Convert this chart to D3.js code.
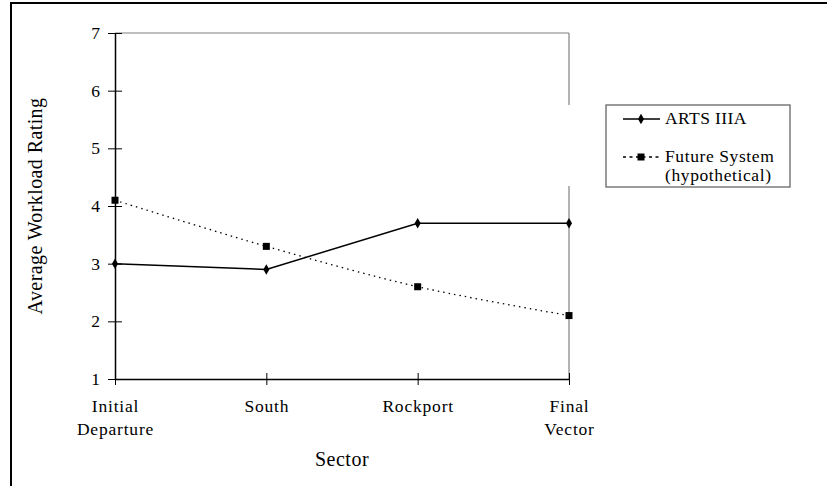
<!DOCTYPE html>
<html><head><meta charset="utf-8">
<script src="https://cdn.jsdelivr.net/npm/d3@7"></script>
<style>
html,body{margin:0;padding:0;background:#fff;}
text{font-family:"Liberation Serif","Times New Roman",serif;fill:#000;}
</style></head>
<body>
<svg id="c" width="827" height="486"></svg>
<script>
const categories = [["Initial","Departure"],["South"],["Rockport"],["Final","Vector"]];
const categoryKeys = ["Initial Departure","South","Rockport","Final Vector"];
const artsValues = [3.0, 2.9, 3.7, 3.7];
const futureValues = [4.1, 3.3, 2.6, 2.1];
const yTicks = [1,2,3,4,5,6,7];
const seriesNames = ["ARTS IIIA", ["Future System","(hypothetical)"]];

const FONT = "Liberation Serif";
const svg = d3.select("#c");
// outer frame
svg.append("rect").attr("x",11).attr("y",3).attr("width",840).attr("height",520)
  .attr("fill","none").attr("stroke","#000").attr("stroke-width",2);

const x = d3.scalePoint().domain(categoryKeys).range([115,569]).padding(0);
const y = d3.scaleLinear().domain([1,7]).range([379,33]);

// plot area border (top and right, gray)
svg.append("line").attr("x1",x.range()[0]).attr("x2",x.range()[1]).attr("y1",y(7)).attr("y2",y(7))
  .attr("stroke","#808080").attr("stroke-width",1.2);
svg.append("line").attr("x1",x.range()[1]).attr("x2",x.range()[1]).attr("y1",y(7)).attr("y2",105)
  .attr("stroke","#808080").attr("stroke-width",1.2);
svg.append("line").attr("x1",x.range()[1]).attr("x2",x.range()[1]).attr("y1",186).attr("y2",y(1))
  .attr("stroke","#808080").attr("stroke-width",1.2);

// y axis
const yAxis = svg.append("g").attr("transform",`translate(${x.range()[0]},0)`)
  .call(d3.axisLeft(y).tickValues(yTicks).tickFormat(d3.format("d")).tickSizeInner(7).tickSizeOuter(0).tickPadding(8));
yAxis.select(".domain").attr("stroke","#000").attr("stroke-width",1.5);
yAxis.selectAll(".tick line").attr("x1",7).attr("x2",-7).attr("stroke","#000").attr("stroke-width",1);
yAxis.selectAll(".tick text").attr("font-size",17.5).attr("font-family",FONT).attr("fill","#000");

// x axis
const xAxis = svg.append("g").attr("transform",`translate(0,${y(1)})`)
  .call(d3.axisBottom(x).tickSizeInner(6).tickSizeOuter(0).tickFormat(""));
xAxis.select(".domain").attr("stroke","#000").attr("stroke-width",1.5);
xAxis.selectAll(".tick line").attr("y1",-6).attr("y2",6).attr("stroke","#000").attr("stroke-width",1);
xAxis.selectAll(".tick").each(function(d,i){
  const t = d3.select(this).append("text").attr("text-anchor","middle")
    .attr("font-size",17.5).attr("font-family",FONT).attr("fill","#000").attr("letter-spacing","0.8");
  categories[i].forEach((line,j)=>{
    t.append("tspan").attr("x",0).attr("y",33 + j*23).text(line);
  });
});

// axis titles
svg.append("text").attr("x",342).attr("y",466).attr("text-anchor","middle")
  .attr("font-size",20).attr("letter-spacing","0.5").text("Sector");
svg.append("text").attr("transform","translate(42,206) rotate(-90)").attr("text-anchor","middle")
  .attr("font-size",20).attr("letter-spacing","0.4").text("Average Workload Rating");

// future line (smoothed, dotted)
const lineFuture = d3.line().x((d,i)=>x(categoryKeys[i])).y(d=>y(d)).curve(d3.curveCardinal.tension(0.1));
svg.append("path").datum(futureValues).attr("d",lineFuture).attr("fill","none")
  .attr("stroke","#000").attr("stroke-width",1.3).attr("stroke-dasharray","1.5,4");
svg.selectAll(".sq").data(futureValues).enter().append("rect")
  .attr("x",(d,i)=>x(categoryKeys[i])-3.5).attr("y",d=>y(d)-3.5).attr("width",7).attr("height",7).attr("fill","#000");

// arts line
const lineArts = d3.line().x((d,i)=>x(categoryKeys[i])).y(d=>y(d));
svg.append("path").datum(artsValues).attr("d",lineArts).attr("fill","none")
  .attr("stroke","#000").attr("stroke-width",1.5);
const diamond = d3.symbol().type(d3.symbolDiamond).size(32);
svg.selectAll(".dm").data(artsValues).enter().append("path").attr("d",diamond)
  .attr("transform",(d,i)=>`translate(${x(categoryKeys[i])},${y(d)})`).attr("fill","#000");

// legend
const lg = svg.append("g");
lg.append("rect").attr("x",606).attr("y",105).attr("width",184).attr("height",82)
  .attr("fill","#fff").attr("stroke","#666").attr("stroke-width",1.3);
lg.append("line").attr("x1",623).attr("x2",660).attr("y1",119).attr("y2",119).attr("stroke","#000").attr("stroke-width",1.5);
lg.append("path").attr("d",diamond).attr("transform","translate(641,119)").attr("fill","#000");
lg.append("text").attr("x",665).attr("y",124).attr("font-size",17.5).attr("letter-spacing","0.4").text(seriesNames[0]);
lg.append("line").attr("x1",623).attr("x2",662).attr("y1",157).attr("y2",157).attr("stroke","#000").attr("stroke-width",1.3).attr("stroke-dasharray","3,3.5");
lg.append("rect").attr("x",637.5).attr("y",153.5).attr("width",7).attr("height",7).attr("fill","#000");
lg.append("text").attr("x",665).attr("y",162).attr("font-size",17.5).attr("letter-spacing","0.6").text(seriesNames[1][0]);
lg.append("text").attr("x",665).attr("y",181).attr("font-size",17.5).attr("letter-spacing","0.6").text(seriesNames[1][1]);
</script>
</body></html>
